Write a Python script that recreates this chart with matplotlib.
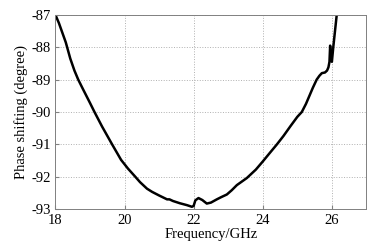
import numpy as np
import matplotlib
matplotlib.use("Agg")
import matplotlib.pyplot as plt

# frequency (GHz) and phase shift (degree)
freq = [18.0, 18.1, 18.19, 18.3, 18.43, 18.55, 18.66, 18.8, 19.0, 19.13,
        19.35, 19.64, 19.9, 20.1, 20.31, 20.45, 20.65, 20.8, 21.0, 21.23,
        21.3, 21.4, 21.6, 21.81, 21.95, 22.0, 22.05, 22.14, 22.25, 22.38,
        22.5, 22.67, 22.8, 22.96, 23.1, 23.25, 23.54, 23.8, 24.0, 24.2,
        24.41, 24.6, 24.8, 25.0, 25.13, 25.25, 25.35, 25.45, 25.56, 25.64,
        25.71, 25.80, 25.86, 25.90, 25.93, 25.95, 25.97, 26.0, 26.04, 26.09,
        26.14]
phase = [-87.0, -87.25, -87.52, -87.85, -88.35, -88.72, -89.0, -89.3, -89.72, -90.0,
         -90.45, -91.0, -91.48, -91.75, -92.0, -92.17, -92.37, -92.47, -92.58, -92.70,
         -92.70, -92.75, -92.82, -92.88, -92.93, -92.90, -92.73, -92.66, -92.72, -92.83,
         -92.80, -92.70, -92.63, -92.55, -92.42, -92.26, -92.04, -91.78, -91.53, -91.27,
         -91.0, -90.74, -90.44, -90.15, -90.0, -89.75, -89.50, -89.25, -89.0, -88.88,
         -88.80, -88.78, -88.72, -88.62, -88.45, -87.95, -88.40, -88.45, -88.0, -87.50,
         -87.0]

plt.rcParams["font.family"] = ["Liberation Serif", "DejaVu Serif"]
plt.rcParams["axes.unicode_minus"] = False

fig, ax = plt.subplots(figsize=(3.77, 2.48), dpi=100)
fig.subplots_adjust(left=0.147, right=0.972, top=0.94, bottom=0.157)

ax.plot(freq, phase, color="black", linewidth=1.8)

ax.set_xlim(18, 27)
ax.set_ylim(-93, -87)
ax.set_xticks([18, 20, 22, 24, 26])
ax.set_yticks([-93, -92, -91, -90, -89, -88, -87])
ax.grid(True, linestyle=":", color="#b0b0b0", linewidth=0.7)
ax.tick_params(direction="in", labelsize=10.5, length=3, color="#808080")
for s in ax.spines.values():
    s.set_color("#808080")
    s.set_linewidth(0.7)

ax.set_xlabel("Frequency/GHz", fontsize=10.5, labelpad=1)
ax.set_ylabel("Phase shifting (degree)", fontsize=10.5, labelpad=2)

fig.savefig("out.png", dpi=100)
